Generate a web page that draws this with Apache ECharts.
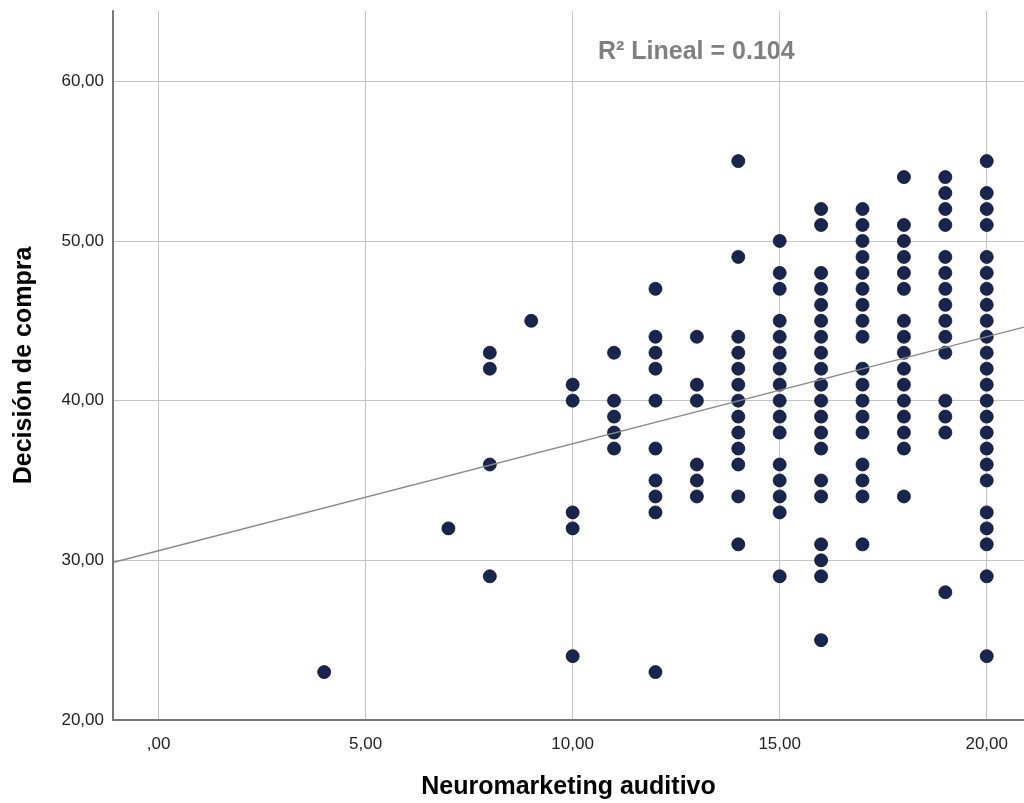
<!DOCTYPE html>
<html>
<head>
<meta charset="utf-8">
<script src="https://cdn.jsdelivr.net/npm/echarts@6/dist/echarts.min.js"></script>
<style>
  html, body { margin: 0; padding: 0; background: #fff; }
  #main { width: 1024px; height: 803px; }
</style>
</head>
<body>
<div id="main"></div>
<script>
// Neuromarketing auditivo (x) levels, and the Decisión de compra values seen at each
const xLevels = [4, 7, 8, 9, 10, 11, 12, 13, 14, 15, 16, 17, 18, 19, 20];
const yColumns = [
  [23],
  [32],
  [43, 42, 36, 29],
  [45],
  [41, 40, 33, 32, 24],
  [43, 40, 39, 38, 37],
  [47, 44, 43, 42, 40, 37, 35, 34, 33, 23],
  [44, 41, 40, 36, 35, 34],
  [55, 49, 44, 43, 42, 41, 40, 39, 38, 37, 36, 34, 31],
  [50, 48, 47, 45, 44, 43, 42, 41, 40, 39, 38, 36, 35, 34, 33, 29],
  [52, 51, 48, 47, 46, 45, 44, 43, 42, 41, 40, 39, 38, 37, 35, 34, 31, 30, 29, 25],
  [52, 51, 50, 49, 48, 47, 46, 45, 44, 42, 41, 40, 39, 38, 36, 35, 34, 31],
  [54, 51, 50, 49, 48, 47, 45, 44, 43, 42, 41, 40, 39, 38, 37, 34],
  [54, 53, 52, 51, 49, 48, 47, 46, 45, 44, 43, 40, 39, 38, 28],
  [55, 53, 52, 51, 49, 48, 47, 46, 45, 44, 43, 42, 41, 40, 39, 38, 37, 36, 35, 33, 32, 31, 29, 24]
];

// linear fit shown in the chart
const fitIntercept = 30.6;
const fitSlope = 0.67;
const fitLabel = 'R\u00b2 Lineal = 0.104';

const xMin = -1.1, xMax = 20.9;
const yMin = 20, yMax = 64.4;

const points = [];
xLevels.forEach((x, i) => {
  yColumns[i].forEach(y => points.push([x, y]));
});
const fitLine = [
  [xMin, fitIntercept + fitSlope * xMin],
  [xMax, fitIntercept + fitSlope * xMax]
];

const fmt = v => (v === 0 ? ',00' : v.toFixed(2).replace('.', ','));
const font = "'Liberation Sans', Arial, sans-serif";

const chart = echarts.init(document.getElementById('main'));

const option = {
  animation: false,
  backgroundColor: '#ffffff',
  grid: { left: 113, right: 0, top: 11, bottom: 83, outerBoundsMode: 'none' },
  graphic: [{
    type: 'text',
    left: 598,
    top: 40,
    style: {
      text: fitLabel,
      font: 'bold 25px ' + font,
      fill: '#808080'
    }
  }],
  xAxis: {
    type: 'value',
    min: xMin,
    max: xMax,
    name: 'Neuromarketing auditivo',
    nameLocation: 'middle',
    nameGap: 55,
    nameTextStyle: { fontFamily: font, fontSize: 25, fontWeight: 'bold', color: '#000' },
    axisLine: { show: true, onZero: false, lineStyle: { color: '#777', width: 2 } },
    axisTick: { show: false },
    axisLabel: {
      showMinLabel: false, showMaxLabel: false,
      margin: 16, fontFamily: font, fontSize: 17, color: '#222',
      formatter: fmt
    },
    splitLine: { show: true, showMinLine: false, showMaxLine: false, lineStyle: { color: '#c4c4c4', width: 1 } }
  },
  yAxis: {
    type: 'value',
    min: yMin,
    max: yMax,
    name: 'Decisión de compra',
    nameLocation: 'middle',
    nameGap: 76,
    nameTextStyle: { fontFamily: font, fontSize: 25, fontWeight: 'bold', color: '#000' },
    axisLine: { show: true, onZero: false, lineStyle: { color: '#777', width: 2 } },
    axisTick: { show: false },
    axisLabel: {
      showMaxLabel: false,
      margin: 9, fontFamily: font, fontSize: 17, color: '#222',
      formatter: fmt
    },
    splitLine: { show: true, showMinLine: false, showMaxLine: false, lineStyle: { color: '#c4c4c4', width: 1 } }
  },
  series: [
    {
      type: 'scatter',
      data: points,
      symbolSize: 13,
      itemStyle: { color: '#18264f', borderColor: '#0a1230', borderWidth: 0.8, opacity: 1 },
      z: 2
    },
    {
      type: 'line',
      data: fitLine,
      symbol: 'none',
      clip: true,
      lineStyle: { color: '#8a8a8a', width: 1.3 },
      z: 3
    }
  ]
};

chart.setOption(option);
</script>
</body>
</html>
